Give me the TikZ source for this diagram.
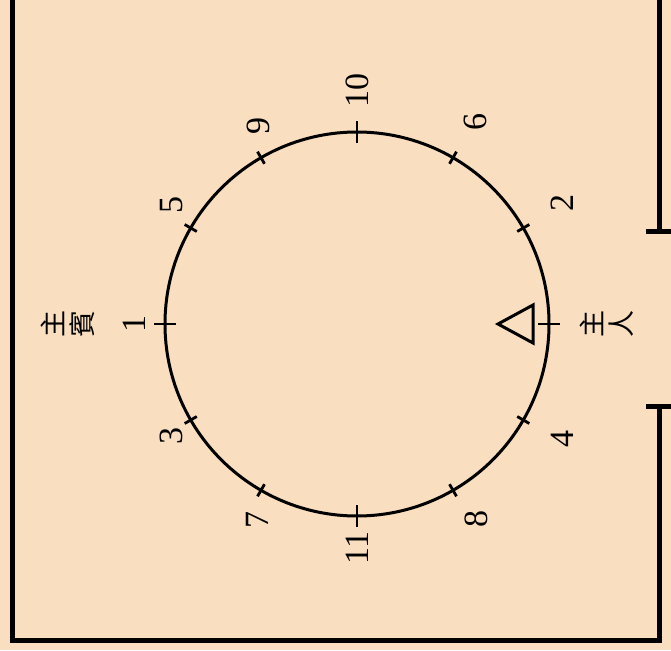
\documentclass[tikz,border=0pt]{standalone}
\usepackage{fontspec}
\usetikzlibrary{calc}
\setmainfont{Liberation Serif}
\newfontfamily\cjk{Noto Sans CJK SC}
\definecolor{peach}{RGB}{249,222,192}
\begin{document}
\begin{tikzpicture}[x=1pt,y=-1pt,
  wall/.style={line width=5pt,line cap=rect},
  ring/.style={line width=3pt},
  tickmark/.style={line width=2.8pt},
  seatnum/.style={rotate=90,font=\fontsize{34}{34}\selectfont,inner sep=0pt},
  seatname/.style={rotate=90,font=\cjk\fontsize{27}{29}\selectfont,inner sep=0pt,align=center}]
\fill[peach] (0,0) rectangle (671,650);
\useasboundingbox (0,0) rectangle (671,650);
% room walls
\coordinate (wtl) at (12.5,-10);
\coordinate (wbl) at (12.5,640);
\coordinate (wbr) at (659,640);
\coordinate (dlo) at (659,406);
\coordinate (dhi) at (659,231);
\coordinate (wtr) at (659,-10);
\draw[wall] (wtl) -- (wbl) -- (wbr) -- (dlo);
\draw[wall] (dhi) -- (wtr);
\coordinate (capa) at (646,231);
\coordinate (capb) at (672,231);
\coordinate (capc) at (646,406);
\coordinate (capd) at (672,406);
\draw[wall,line cap=butt] (capa) -- (capb);
\draw[wall,line cap=butt] (capc) -- (capd);
% table
\node[draw,ring,circle,minimum size=384pt,inner sep=0pt] (c) at (357,324) {};
\foreach \a in {0,90,180,270}{
  \draw[tickmark] ($(c.center)+(\a:181)$) -- ($(c.center)+(\a:203)$);
}
\foreach \a in {30,60,120,150,210,240,300,330}{
  \draw[tickmark] ($(c.center)+(\a:185)$) -- ($(c.center)+(\a:199)$);
}
% seat numbers
\node[seatnum] (s10) at (357,90) {10};
\node[seatnum] (s9) at (258,126) {9};
\node[seatnum] (s5) at (172,205) {5};
\node[seatnum] (s1) at (134,324) {1};
\node[seatnum] (s3) at (171,436) {3};
\node[seatnum] (s7) at (257,520) {7};
\node[seatnum] (s11) at (357,548) {11};
\node[seatnum] (s8) at (476,519) {8};
\node[seatnum] (s4) at (562,439) {4};
\node[seatnum] (s2) at (562,203) {2};
\node[seatnum] (s6) at (475,122) {6};
% names
\node[seatname] (guest) at (68,324) {主\\賓};
\node[seatname] (host) at (607,324) {主\\人};
% host marker
\coordinate (tapex) at (498,324);
\coordinate (ttop) at (533,305);
\coordinate (tbot) at (533,343);
\draw[line width=3pt,line join=miter] (tapex) -- (ttop) -- (tbot) -- cycle;
\end{tikzpicture}
\end{document}
